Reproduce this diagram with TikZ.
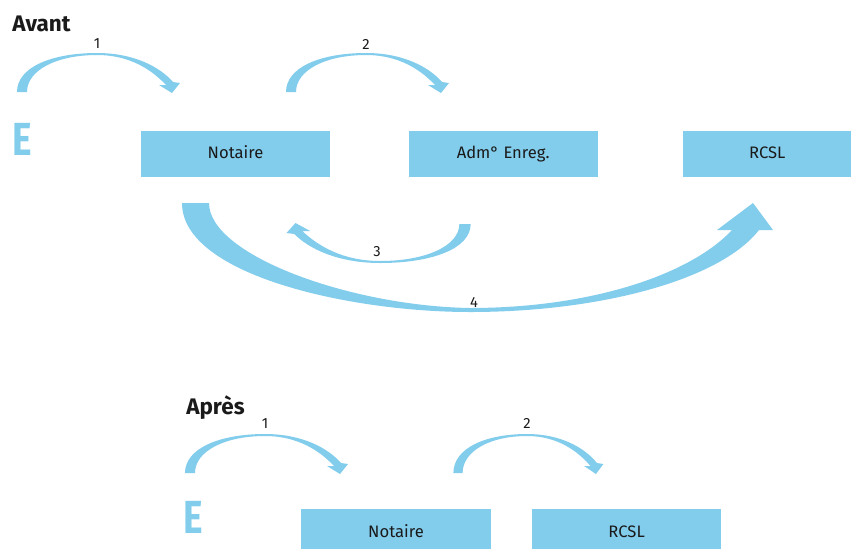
\documentclass[tikz,border=0pt]{standalone}
\usepackage{fontspec}
\setmainfont{Fira Sans}
\usetikzlibrary{positioning}
\definecolor{flowblue}{HTML}{82CCEC}
\definecolor{inkgrey}{HTML}{1A1A1A}

\tikzset{
  % tapered hop arrow, origin at the middle of its thick end
  hop/.pic={
    \fill[flowblue] (-5,0) .. controls (-5,-25) and (30,-39) .. (75,-39)
      .. controls (112,-39) and (138,-25) .. (151,-10)
      -- (158,-9) -- (150,1) -- (137,-7) -- (144,-7)
      .. controls (130,-22) and (108,-37) .. (75,-37)
      .. controls (35,-37) and (5,-22) .. (5,0) -- cycle;
  }
}

\begin{document}
\begin{tikzpicture}[
    x=0.025cm, y=-0.025cm,
    box/.style={rectangle, fill=flowblue, minimum width=4.725cm, minimum height=1.15cm, inner sep=0pt,
      text height=0.69em, text depth=0em, font=\fontsize{11.8}{13}\selectfont, text=inkgrey},
    title/.style={inner sep=0pt, font=\fontsize{16}{18}\selectfont\bfseries, text=inkgrey},
    num/.style={inner sep=0pt, font=\fontsize{10.5}{12}\selectfont, text=inkgrey},
    ent/.style={inner sep=0pt, font=\fontsize{33}{33}\selectfont\bfseries, text=flowblue},
]
\useasboundingbox (0,0) rectangle (859,548);
\clip (0,0) rectangle (859,548);

% Avant
\node[title, anchor=base west] (avant) at (12,31) {Avant};
\node[ent] (eA) at (22,139) {\scalebox{0.8}[1]{E}};
\node[box] (notA) at (235.5,154) {Notaire};
\node[box, right=1.95cm of notA] (admA) {Adm° Enreg.};
\node[box, right=2.125cm of admA, minimum width=4.2cm] (rcslA) {RCSL};

% Avant: steps
\pic at (22,92) {hop};
\node[num] (n1A) at (97,44) {1};
\pic at (291,92) {hop};
\node[num] (n2A) at (366,44) {2};
\pic[xscale=-1.13, yscale=-1] at (465,224) {hop};
\node[num] (n3A) at (377,252) {3};
\fill[flowblue] (182,203) .. controls (182,275) and (350,312) .. (470,312)
  .. controls (600,312) and (720,280) .. (759,230)
  -- (773,230) -- (753,203) -- (717,230) -- (732,230)
  .. controls (690,275) and (590,308) .. (470,308)
  .. controls (350,306) and (209,255) .. (209,203) -- cycle;
\node[num] (n4A) at (474,302) {4};

% Apres
\node[title, anchor=base west] (apres) at (186,414) {Après};
\node[ent] (eP) at (193.5,517) {\scalebox{0.8}[1]{E}};
\node[box, minimum height=1.2cm] (notP) at (396,533) {Notaire};
\node[box, minimum height=1.2cm, right=1.025cm of notP] (rcslP) {RCSL};

% Apres: steps
\pic at (190,473) {hop};
\node[num] (n1P) at (265,423.5) {1};
\pic[xscale=0.92] at (458,473) {hop};
\node[num] (n2P) at (527,423.5) {2};

\end{tikzpicture}
\end{document}
